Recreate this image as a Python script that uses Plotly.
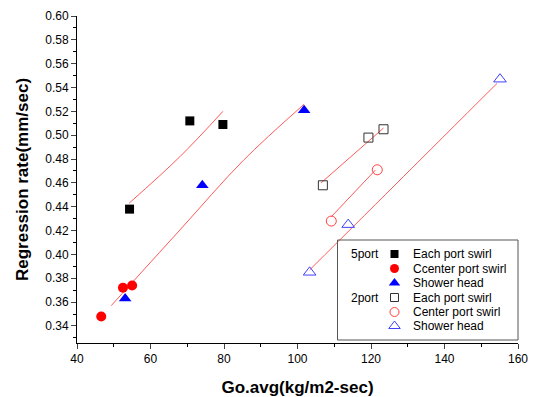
import plotly.graph_objects as go

# ---- data ----
p5_each_x = [54.3, 70.7, 79.7]
p5_each_y = [0.438, 0.512, 0.509]
p5_center_x = [46.6, 52.5, 55.0]
p5_center_y = [0.348, 0.372, 0.374]
p5_shower_x = [53.1, 74.1, 101.8]
p5_shower_y = [0.363, 0.458, 0.521]
p2_each_x = [106.9, 119.3, 123.4]
p2_each_y = [0.458, 0.498, 0.505]
p2_center_x = [109.2, 121.7]
p2_center_y = [0.428, 0.471]
p2_shower_x = [103.3, 113.8, 155.1]
p2_shower_y = [0.385, 0.425, 0.547]

# fitted curves
fit1_x = [54.2, 68.0, 79.7]
fit1_y = [0.443, 0.482, 0.520]
fit2_x = [49.3, 68.0, 85.3, 101.8]
fit2_y = [0.357, 0.4205, 0.479, 0.526]
fit3_x = [106.4, 123.4]
fit3_y = [0.460, 0.506]
fit4_x = [109.2, 121.2]
fit4_y = [0.4316, 0.4708]
fit5_x = [103.3, 128.8, 154.3]
fit5_y = [0.387, 0.4652, 0.5435]

legend_groups = ["5port", "", "", "2port", "", ""]
legend_names = ["Each port swirl", "Ccenter port swirl", "Shower head",
                "Each port swirl", "Center port swirl", "Shower head"]

x_title = "Go.avg(kg/m2-sec)"
y_title = "Regression rate(mm/sec)"

FONT = "Liberation Sans, Arial, sans-serif"
FIT = "#ff5a5a"

fig = go.Figure()
for fx, fy in [(fit1_x, fit1_y), (fit2_x, fit2_y), (fit3_x, fit3_y), (fit4_x, fit4_y), (fit5_x, fit5_y)]:
    fig.add_trace(go.Scatter(x=fx, y=fy, mode="lines",
                             line=dict(color=FIT, width=1, shape="spline" if len(fx) > 2 else "linear"),
                             showlegend=False, hoverinfo="skip"))

styles = [
    dict(symbol="square", size=9, color="black"),
    dict(symbol="circle", size=10, color="red"),
    dict(symbol="triangle-up", size=11, color="blue"),
    dict(symbol="square-open", size=9, color="#333333", line=dict(width=1)),
    dict(symbol="circle-open", size=10, color="#ff4040", line=dict(width=1)),
    dict(symbol="triangle-up-open", size=11, color="#4040ff", line=dict(width=1)),
]
series = [(p5_each_x, p5_each_y), (p5_center_x, p5_center_y), (p5_shower_x, p5_shower_y),
          (p2_each_x, p2_each_y), (p2_center_x, p2_center_y), (p2_shower_x, p2_shower_y)]
for (sx, sy), st in zip(series, styles):
    fig.add_trace(go.Scatter(x=sx, y=sy, mode="markers", marker=st, showlegend=False))

# ---- custom legend ----
L, R, T, B = 77, 518, 16, 343
W, H = R - L, B - T
def px(x): return (x - L) / W
def py(y): return (B - y) / H

rows_y = [254, 268.5, 283, 297.5, 312, 326]
for i, (g, n, st) in enumerate(zip(legend_groups, legend_names, styles)):
    yy = py(rows_y[i])
    fig.add_trace(go.Scatter(x=[px(394.5)], y=[yy], xaxis="x2", yaxis="y2", mode="markers",
                             marker=dict(st, size=st["size"] - 1), showlegend=False, hoverinfo="skip"))
    fig.add_annotation(x=px(411), y=yy, xref="paper", yref="paper", text=n, showarrow=False,
                       xanchor="left", yanchor="middle", font=dict(family=FONT, size=12, color="black"))
    if g:
        fig.add_annotation(x=px(349), y=yy, xref="paper", yref="paper", text=g, showarrow=False,
                           xanchor="left", yanchor="middle", font=dict(family=FONT, size=12, color="black"))
fig.add_shape(type="rect", xref="paper", yref="paper", x0=px(337.5), x1=px(518), y0=py(340), y1=py(240),
              line=dict(color="#555555", width=1), fillcolor="rgba(0,0,0,0)")

fig.update_layout(
    width=535, height=397, autosize=False,
    margin=dict(l=L, r=535 - R, t=T, b=397 - B, autoexpand=False),
    paper_bgcolor="white", plot_bgcolor="white",
    font=dict(family=FONT, size=12, color="black"),
    xaxis=dict(range=[40, 160], dtick=20, tick0=40, ticks="outside", ticklen=5, tickwidth=1,
               showline=True, linecolor="black", linewidth=1, showgrid=False, zeroline=False,
               automargin=False,
               minor=dict(dtick=10, ticks="outside", ticklen=3, tickcolor="black"),
               tickfont=dict(size=12),
               title=dict(text="<b>%s</b>" % x_title, font=dict(size=17), standoff=16)),
    yaxis=dict(range=[0.3257, 0.60], dtick=0.02, tick0=0.34, tickformat=".2f", ticks="outside",
               ticklen=5, tickwidth=1, showline=True, linecolor="black", linewidth=1,
               showgrid=False, zeroline=False, automargin=False,
               minor=dict(dtick=0.01, ticks="outside", ticklen=3, tickcolor="black"),
               tickfont=dict(size=12),
               title=dict(text="<b>%s</b>" % y_title, font=dict(size=17), standoff=12)),
    xaxis2=dict(overlaying="x", range=[0, 1], visible=False, anchor="y2"),
    yaxis2=dict(overlaying="y", range=[0, 1], visible=False, anchor="x2"),
)

fig.write_html("out.html", config={"displayModeBar": False},
               post_script="document.body.style.margin='0';document.body.style.overflow='hidden';")
